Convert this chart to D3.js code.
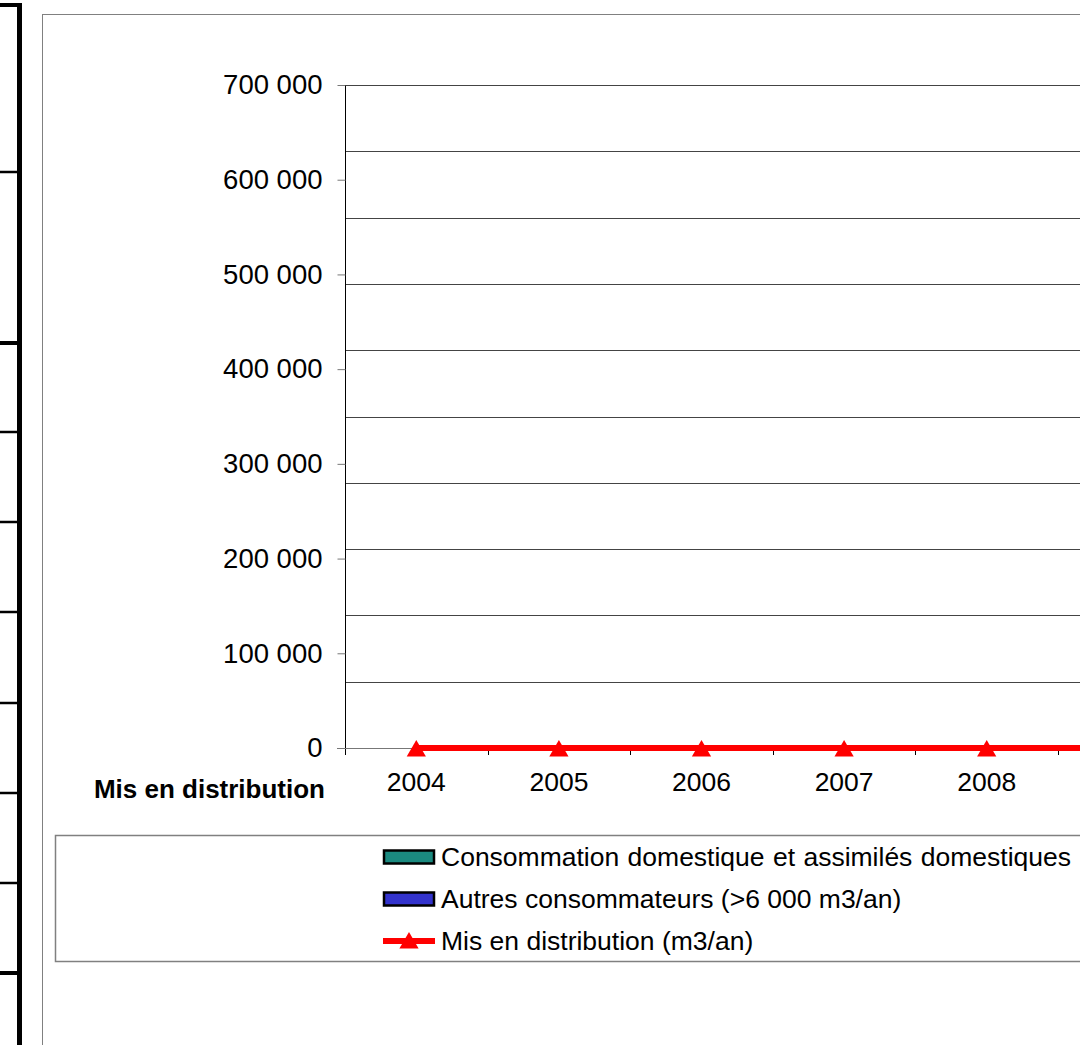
<!DOCTYPE html>
<html>
<head>
<meta charset="utf-8">
<script src="https://cdn.jsdelivr.net/npm/d3@7"></script>
<style>
  body { margin: 0; background: #fff; }
  svg { display: block; font-family: "Liberation Sans", Arial, sans-serif; }
</style>
</head>
<body>
<svg id="chart"></svg>
<script>
// chart data
const years = ["2004", "2005", "2006", "2007", "2008", "2009"];
const domestique = [0, 0, 0, 0, 0, 0];
const autres = [0, 0, 0, 0, 0, 0];
const misEnDistribution = [0, 0, 0, 0, 0, 0];
const yTicks = [0, 100000, 200000, 300000, 400000, 500000, 600000, 700000];
const gridTicks = [70000, 140000, 210000, 280000, 350000, 420000, 490000, 560000, 630000, 700000];
const legendLabels = [
    "Consommation domestique et assimilés domestiques",
    "Autres consommateurs (>6 000 m3/an)",
    "Mis en distribution (m3/an)"
];
const tableRows = [5, 172, 343, 432, 522, 612, 703, 793, 883, 973];

const W = 1080, H = 1045;
const svg = d3.select("#chart").attr("width", W).attr("height", H);

// page table border on the left
svg.append("line")
    .attr("x1", 19.5).attr("x2", 19.5).attr("y1", 3).attr("y2", H)
    .attr("stroke", "#000").attr("stroke-width", 5);
svg.selectAll(".row-line")
    .data(tableRows)
    .join("line")
    .attr("class", "row-line")
    .attr("x1", 0).attr("x2", d => d === 5 ? 22 : 19)
    .attr("y1", d => d).attr("y2", d => d)
    .attr("stroke", "#000")
    .attr("stroke-width", (d, i) => (i === 0 || i === 2 || i === 9) ? 4 : 2.5);

// chart area frame
svg.append("rect")
    .attr("x", 42.5).attr("y", 14.5)
    .attr("width", 1200).attr("height", 1200)
    .attr("fill", "#fff").attr("stroke", "#808080").attr("stroke-width", 1);

const margin = { left: 345, top: 85 };
const plotW = years.length * 142.6;
const plotH = 663;

const x = d3.scaleBand().domain(years).range([0, plotW]).padding(0);
const y = d3.scaleLinear().domain([0, 700000]).range([plotH, 0]);

const g = svg.append("g").attr("transform", `translate(${margin.left},${margin.top})`);

// gridlines
g.selectAll(".grid")
    .data(gridTicks)
    .join("line")
    .attr("class", "grid")
    .attr("x1", 0).attr("x2", plotW)
    .attr("y1", d => Math.round(y(d)) + 0.5).attr("y2", d => Math.round(y(d)) + 0.5)
    .attr("stroke", "#444").attr("stroke-width", 1);

// y axis
const fmt = d => d3.format(",")(d).replace(/,/g, " ");
const yAxis = g.append("g")
    .attr("transform", "translate(0.5,0)")
    .call(d3.axisLeft(y).tickValues(yTicks).tickFormat(fmt).tickSize(8).tickPadding(15));
yAxis.select(".domain").attr("stroke", "#000").attr("d", `M0,0V${plotH + 7}`);
yAxis.selectAll(".tick line").attr("stroke", "#777");
yAxis.selectAll("text").attr("font-size", 27.5).attr("fill", "#000")
    .attr("font-family", "Liberation Sans, Arial, sans-serif");

// x axis
const xAxis = g.append("g")
    .attr("transform", `translate(0,${plotH + 0.5})`)
    .call(d3.axisBottom(x).tickSize(0).tickPadding(24));
xAxis.select(".domain").attr("stroke", "#777").attr("d", `M-8,0H${plotW}`);
xAxis.selectAll("text").attr("font-size", 26.5).attr("fill", "#000")
    .attr("font-family", "Liberation Sans, Arial, sans-serif");
// labels past the right edge of the page are cropped away in the original
xAxis.selectAll(".tick")
    .filter(d => margin.left + x(d) + x.bandwidth() / 2 > W)
    .select("text").remove();
g.selectAll(".xtick")
    .data(years)
    .join("line")
    .attr("class", "xtick")
    .attr("x1", d => Math.round(x(d) + x.bandwidth()) + 0.5)
    .attr("x2", d => Math.round(x(d) + x.bandwidth()) + 0.5)
    .attr("y1", plotH).attr("y2", plotH + 7)
    .attr("stroke", "#000");

g.append("text")
    .attr("x", -20).attr("y", plotH + 50)
    .attr("text-anchor", "end")
    .attr("font-size", 26).attr("font-weight", "bold")
    .text("Mis en distribution");

// stacked bars (all zero)
const bw = x.bandwidth() * 0.5;
g.selectAll(".bar-dom")
    .data(years)
    .join("rect")
    .attr("class", "bar-dom")
    .attr("x", d => x(d) + (x.bandwidth() - bw) / 2)
    .attr("width", bw)
    .attr("y", (d, i) => y(domestique[i]))
    .attr("height", (d, i) => plotH - y(domestique[i]))
    .attr("fill", "#1b8a80");
g.selectAll(".bar-aut")
    .data(years)
    .join("rect")
    .attr("class", "bar-aut")
    .attr("x", d => x(d) + (x.bandwidth() - bw) / 2)
    .attr("width", bw)
    .attr("y", (d, i) => y(domestique[i] + autres[i]))
    .attr("height", (d, i) => y(domestique[i]) - y(domestique[i] + autres[i]))
    .attr("fill", "#3333cc");

// red line with triangles
const cx = d => x(d) + x.bandwidth() / 2;
const lineGen = d3.line().x(d => cx(d.year)).y(d => y(d.value));
const lineData = years.map((yr, i) => ({ year: yr, value: misEnDistribution[i] }));
g.append("path")
    .datum(lineData)
    .attr("d", d => lineGen(d) + `H${plotW}`)
    .attr("fill", "none").attr("stroke", "#ff0000").attr("stroke-width", 6);
const tri = d3.symbol().type(d3.symbolTriangle).size(160);
g.selectAll(".marker")
    .data(lineData)
    .join("path")
    .attr("class", "marker")
    .attr("transform", d => `translate(${cx(d.year)},${y(d.value) + 3})`)
    .attr("d", tri)
    .attr("fill", "#ff0000");

// legend
const legend = svg.append("g");
legend.append("rect")
    .attr("x", 55.5).attr("y", 835.5)
    .attr("width", 1100).attr("height", 126)
    .attr("fill", "#fff").attr("stroke", "#808080").attr("stroke-width", 1.5);
const ly = [857, 899, 941];
const swatchColors = ["#1b8a80", "#3333cc"];
swatchColors.forEach((c, i) => {
    legend.append("rect")
        .attr("x", 384).attr("y", ly[i] - 6.5)
        .attr("width", 50).attr("height", 13)
        .attr("fill", c).attr("stroke", "#000").attr("stroke-width", 2.5);
});
legend.append("line")
    .attr("x1", 383).attr("x2", 435).attr("y1", ly[2]).attr("y2", ly[2])
    .attr("stroke", "#ff0000").attr("stroke-width", 6);
legend.append("path")
    .attr("transform", `translate(409,${ly[2] + 2})`)
    .attr("d", tri)
    .attr("fill", "#ff0000");
legend.selectAll(".leg-text")
    .data(legendLabels)
    .join("text")
    .attr("class", "leg-text")
    .attr("x", 441).attr("y", (d, i) => ly[i] + 9)
    .attr("font-size", 26.5)
    .attr("word-spacing", (d, i) => i === 0 ? 1 : 0)
    .text(d => d);
</script>
</body>
</html>
